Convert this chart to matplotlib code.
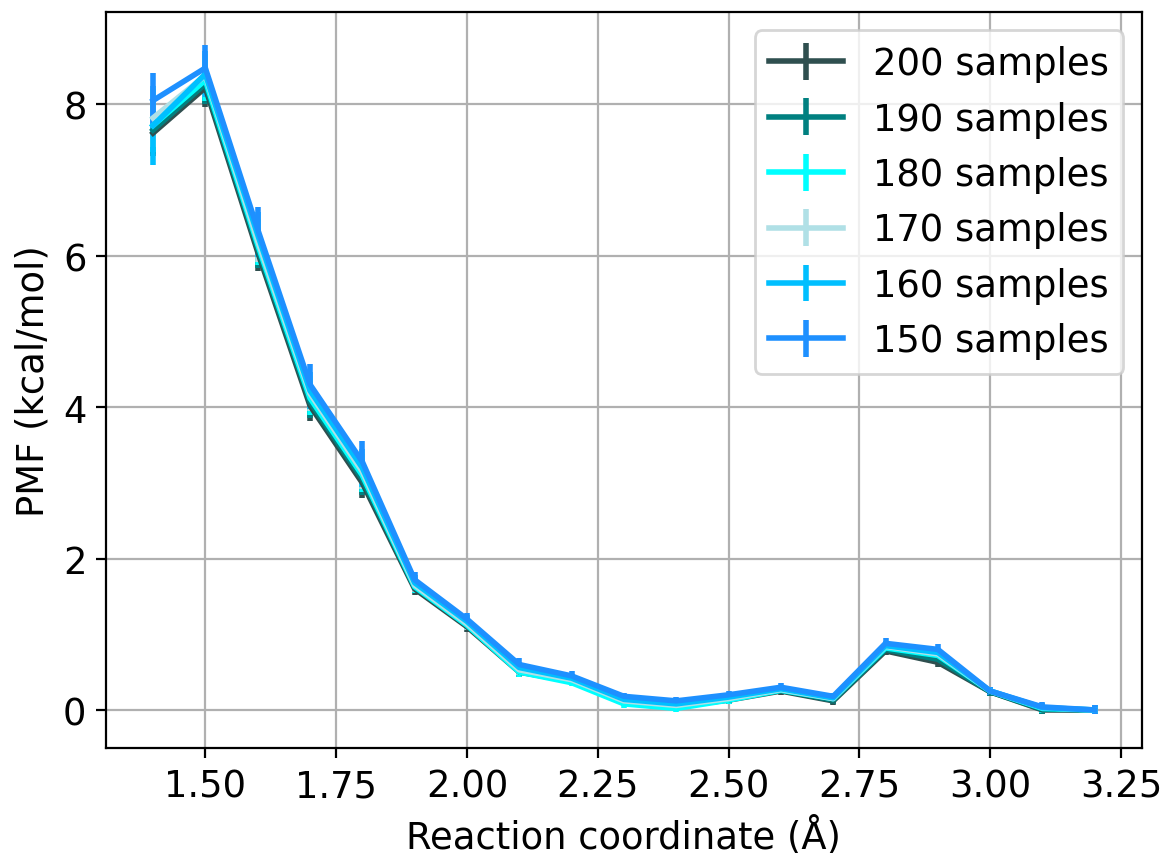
import matplotlib
matplotlib.use("Agg")
import matplotlib.pyplot as plt

x = [1.4, 1.5, 1.6, 1.7, 1.8, 1.9, 2.0, 2.1, 2.2, 2.3, 2.4, 2.5, 2.6, 2.7, 2.8, 2.9, 3.0, 3.1, 3.2]

labels = ["200 samples", "190 samples", "180 samples", "170 samples", "160 samples", "150 samples"]
colors = ["darkslategray", "teal", "cyan", "powderblue", "deepskyblue", "dodgerblue"]

pmf_200 = [7.62, 8.22, 6.05, 4.02, 3.00, 1.60, 1.10, 0.50, 0.38, 0.10, 0.05, 0.13, 0.25, 0.12, 0.78, 0.63, 0.24, 0.00, 0.00]
pmf_190 = [7.66, 8.27, 6.10, 4.07, 3.05, 1.62, 1.12, 0.52, 0.39, 0.11, 0.05, 0.14, 0.26, 0.13, 0.80, 0.67, 0.24, 0.01, 0.00]
pmf_180 = [7.72, 8.32, 6.15, 4.12, 3.10, 1.63, 1.12, 0.50, 0.36, 0.08, 0.02, 0.13, 0.26, 0.15, 0.82, 0.72, 0.25, 0.02, 0.00]
pmf_170 = [7.82, 8.38, 6.20, 4.18, 3.15, 1.65, 1.14, 0.53, 0.40, 0.12, 0.06, 0.15, 0.27, 0.15, 0.84, 0.74, 0.25, 0.03, 0.00]
pmf_160 = [7.72, 8.40, 6.28, 4.22, 3.20, 1.68, 1.17, 0.56, 0.42, 0.14, 0.08, 0.17, 0.28, 0.16, 0.85, 0.76, 0.25, 0.03, 0.00]
pmf_150 = [8.05, 8.48, 6.35, 4.30, 3.28, 1.72, 1.20, 0.60, 0.45, 0.18, 0.12, 0.20, 0.30, 0.18, 0.88, 0.80, 0.25, 0.04, 0.00]

err_200 = [0.30, 0.25, 0.25, 0.20, 0.20, 0.08, 0.07, 0.06, 0.05, 0.05, 0.05, 0.05, 0.05, 0.05, 0.06, 0.06, 0.05, 0.06, 0.06]
err_190 = [0.32, 0.26, 0.26, 0.21, 0.21, 0.08, 0.07, 0.06, 0.05, 0.05, 0.05, 0.05, 0.05, 0.05, 0.06, 0.06, 0.05, 0.06, 0.06]
err_180 = [0.35, 0.27, 0.27, 0.22, 0.22, 0.09, 0.07, 0.07, 0.05, 0.05, 0.05, 0.05, 0.05, 0.05, 0.06, 0.06, 0.05, 0.06, 0.06]
err_170 = [0.38, 0.28, 0.28, 0.23, 0.23, 0.09, 0.08, 0.07, 0.06, 0.05, 0.05, 0.05, 0.05, 0.05, 0.06, 0.06, 0.05, 0.06, 0.06]
err_160 = [0.52, 0.30, 0.30, 0.25, 0.25, 0.10, 0.08, 0.07, 0.06, 0.05, 0.05, 0.05, 0.05, 0.05, 0.06, 0.06, 0.05, 0.06, 0.06]
err_150 = [0.37, 0.30, 0.30, 0.27, 0.27, 0.10, 0.08, 0.08, 0.06, 0.05, 0.05, 0.05, 0.05, 0.05, 0.07, 0.07, 0.05, 0.06, 0.06]

series = [pmf_200, pmf_190, pmf_180, pmf_170, pmf_160, pmf_150]
errors = [err_200, err_190, err_180, err_170, err_160, err_150]

plt.rcParams["font.size"] = 13.3

fig = plt.figure(figsize=(5.82, 4.27), dpi=200)
ax = fig.add_axes([0.091, 0.123, 0.890, 0.862])

for y, e, c, lab in zip(series, errors, colors, labels):
    ax.errorbar(x, y, yerr=e, color=c, label=lab, lw=2, elinewidth=2)

ax.set_xlabel("Reaction coordinate (Å)")
ax.set_ylabel("PMF (kcal/mol)")
ax.set_xticks([1.5, 1.75, 2.0, 2.25, 2.5, 2.75, 3.0, 3.25])
ax.set_yticks([0, 2, 4, 6, 8])
ax.grid(True)
ax.legend(loc="upper right", fontsize=13.3)

fig.savefig("out.png", dpi=200)
